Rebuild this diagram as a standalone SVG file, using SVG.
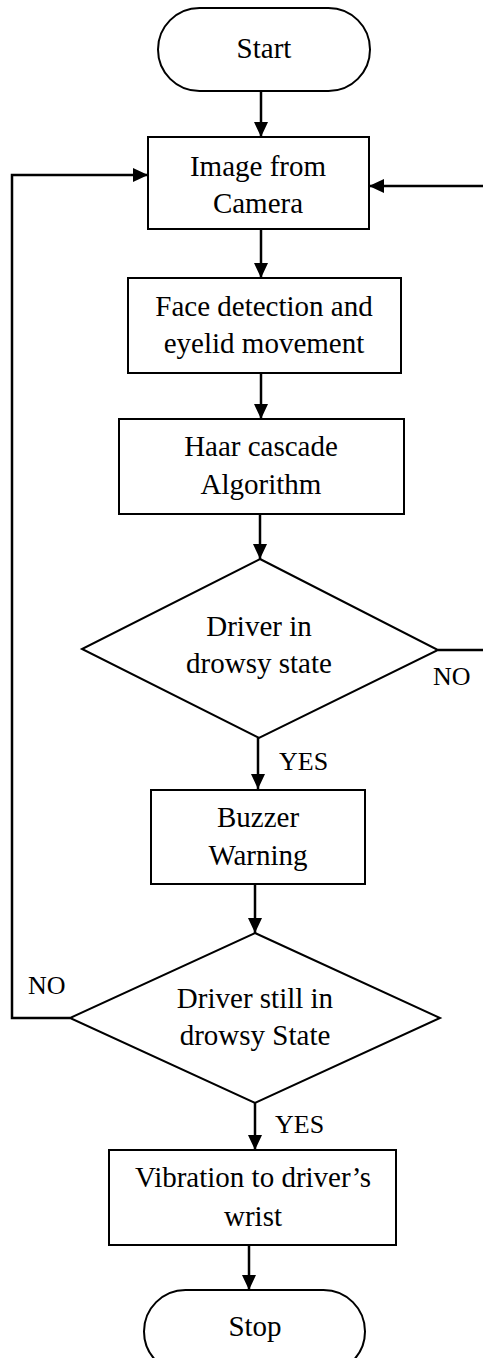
<svg xmlns="http://www.w3.org/2000/svg" width="483" height="1358" viewBox="0 0 483 1358">
<style>
.s{fill:#fff;stroke:#000;stroke-width:2}
.t{font-family:"Liberation Serif","Times New Roman",serif;font-size:29px;fill:#000;text-anchor:middle}
.l{font-family:"Liberation Serif","Times New Roman",serif;font-size:26px;fill:#000}
.c{fill:none;stroke:#000;stroke-width:2.5}
</style>
<defs>
<marker id="a" markerUnits="userSpaceOnUse" markerWidth="16" markerHeight="16" viewBox="0 0 16 16" refX="15" refY="8" orient="auto">
<path d="M0,1 L15,8 L0,15 Z" fill="#000"/>
</marker>
</defs>
<rect width="483" height="1358" fill="#fff"/>
<g id="connectors">
<line class="c" x1="261" y1="91" x2="261" y2="137" marker-end="url(#a)"/>
<line class="c" x1="261" y1="229" x2="261" y2="278" marker-end="url(#a)"/>
<line class="c" x1="261" y1="373" x2="261" y2="419" marker-end="url(#a)"/>
<line class="c" x1="260" y1="514" x2="260" y2="559" marker-end="url(#a)"/>
<line class="c" x1="258" y1="738" x2="258" y2="789" marker-end="url(#a)"/>
<line class="c" x1="255" y1="884" x2="255" y2="933" marker-end="url(#a)"/>
<line class="c" x1="255" y1="1103" x2="255" y2="1150" marker-end="url(#a)"/>
<line class="c" x1="249" y1="1245" x2="249" y2="1290" marker-end="url(#a)"/>
<polyline class="c" points="70,1018 12,1018 12,175 148,175" marker-end="url(#a)"/>
<polyline class="c" points="438,650 485,650"/>
<line class="c" x1="485" y1="186" x2="369" y2="186" marker-end="url(#a)"/>
<text class="l" x="433" y="685">NO</text>
<text class="l" x="279" y="770">YES</text>
<text class="l" x="28" y="994">NO</text>
<text class="l" x="275" y="1133">YES</text>
</g>
<g id="start">
<rect class="s" x="158" y="8" width="212" height="83" rx="41.5" ry="41.5"/>
<text class="t" x="264" y="58">Start</text>
</g>
<g id="image">
<rect class="s" x="148" y="137" width="221" height="92"/>
<text class="t" x="258" y="176">Image from</text>
<text class="t" x="258" y="213">Camera</text>
</g>
<g id="face">
<rect class="s" x="128" y="278" width="273" height="95"/>
<text class="t" x="264" y="316">Face detection and</text>
<text class="t" x="264" y="353">eyelid movement</text>
</g>
<g id="haar">
<rect class="s" x="119" y="419" width="285" height="95"/>
<text class="t" x="261" y="456">Haar cascade</text>
<text class="t" x="261" y="494">Algorithm</text>
</g>
<g id="decision1">
<polygon class="s" points="260,559 438,650 259,738 82,649"/>
<text class="t" x="259" y="636">Driver in</text>
<text class="t" x="259" y="673">drowsy state</text>
</g>
<g id="buzzer">
<rect class="s" x="151" y="790" width="214" height="94"/>
<text class="t" x="258" y="827">Buzzer</text>
<text class="t" x="258" y="865">Warning</text>
</g>
<g id="decision2">
<polygon class="s" points="255,933 440,1018 255,1103 70,1018"/>
<text class="t" x="255" y="1008">Driver still in</text>
<text class="t" x="255" y="1045">drowsy State</text>
</g>
<g id="vibration">
<rect class="s" x="109" y="1150" width="287" height="95"/>
<text class="t" x="253" y="1187">Vibration to driver’s</text>
<text class="t" x="253" y="1226">wrist</text>
</g>
<g id="stop">
<rect class="s" x="144" y="1290" width="221" height="83" rx="41.5" ry="41.5"/>
<text class="t" x="255" y="1336">Stop</text>
</g>
</svg>
